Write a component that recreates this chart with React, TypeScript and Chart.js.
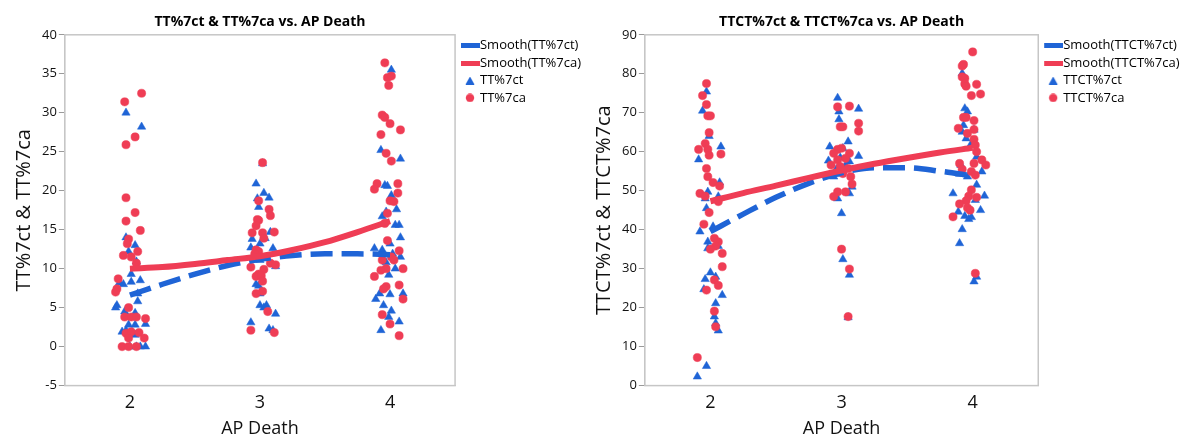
import React, { useEffect, useRef } from "react";
import { Chart, registerables } from "chart.js";

Chart.register(...registerables);

const BLUE = "#1f64d6";
const RED = "#ef3d55";
const FONT = "'Open Sans', 'Noto Sans', sans-serif";

const categories = [2, 3, 4];
const xTitle = "AP Death";
const smoothX = [2, 2.25, 2.5, 2.75, 3, 3.25, 3.5, 3.75, 4];

// ---------- Left chart: TT%7ct & TT%7ca ----------
const leftTitle = "TT%7ct & TT%7ca vs. AP Death";
const leftYTitle = "TT%7ct & TT%7ca";
const leftCtName = "TT%7ct";
const leftCaName = "TT%7ca";
const leftYTicks = [-5, 40, 5]; // min, max, step

const ttCt: [number, number][] = [
  [1.97, 30.0], [2.09, 28.2], [1.97, 14.0], [2.04, 13.0], [1.99, 12.2], [2.05, 10.9], [2.01, 9.3], [2.08, 8.5],
  [1.92, 8.2], [1.95, 8.0], [2.01, 8.3], [2.06, 6.8], [2.06, 5.8], [1.9, 5.3], [1.89, 5.0], [1.96, 4.5],
  [2.04, 4.3], [1.99, 2.8], [2.04, 2.8], [2.12, 2.9], [1.94, 1.9], [1.97, 2.1], [2.04, 1.5], [2.0, 0],
  [2.05, 0], [2.08, 0], [2.12, 0],
  [3.02, 23.5], [2.97, 20.9], [2.98, 19.0], [3.03, 19.7], [3.07, 19.1], [2.99, 17.9], [3.08, 14.7], [2.94, 13.8],
  [3.04, 13.9], [2.93, 12.7], [3.0, 13.2], [3.1, 12.6], [3.0, 11.1], [3.12, 10.3], [2.97, 8.0], [2.99, 7.8],
  [3.0, 6.8], [3.0, 5.3], [3.05, 5.3], [3.03, 5.0], [3.12, 4.2], [2.93, 3.1], [3.07, 2.3], [3.1, 2.1],
  [4.01, 35.5], [3.93, 25.2], [4.08, 24.1], [3.96, 20.7], [3.98, 20.6], [4.01, 19.4], [4.05, 17.6], [3.94, 16.7],
  [3.97, 17.3], [4.04, 15.6], [4.07, 15.6], [4.08, 14.0], [4.0, 13.2], [3.88, 12.6], [3.94, 12.4], [4.02, 11.9],
  [4.08, 11.5], [3.97, 10.8], [4.04, 10.0], [3.99, 9.2], [3.92, 6.8], [3.89, 6.1], [4.0, 6.7], [4.1, 6.8],
  [3.95, 5.3], [4.01, 4.6], [3.99, 3.8], [4.07, 3.2], [3.93, 2.1],
];

const ttCa: [number, number][] = [
  [2.09, 32.5], [1.96, 31.4], [2.04, 26.9], [1.97, 25.9], [1.97, 19.1], [2.04, 17.2], [1.97, 16.1], [2.08, 14.9],
  [1.99, 13.8], [1.98, 13.2], [2.06, 12.2], [1.95, 11.7], [2.01, 11.5], [2.05, 10.7], [1.91, 8.7], [1.9, 7.4],
  [1.89, 7.0], [1.99, 5.0], [1.96, 3.8], [2.01, 3.8], [2.05, 3.8], [2.12, 3.6], [1.97, 1.7], [2.01, 1.9],
  [2.07, 1.8], [1.99, 1.1], [2.11, 1.1], [1.94, 0], [1.99, 0], [2.05, 0],
  [3.02, 23.6], [2.99, 18.7], [3.07, 17.6], [3.08, 16.8], [2.98, 16.3], [2.99, 16.2], [2.97, 15.5], [2.94, 14.6],
  [3.02, 14.6], [3.11, 14.7], [3.03, 13.9], [2.97, 12.4], [2.99, 12.2], [2.96, 11.9], [3.08, 10.7], [3.12, 10.5],
  [2.93, 10.2], [3.03, 9.9], [2.99, 9.3], [2.97, 9.0], [3.01, 9.1], [3.02, 8.4], [3.02, 7.1], [2.97, 6.8],
  [3.06, 4.5], [2.93, 2.1], [3.11, 1.8],
  [3.96, 36.4], [3.98, 34.5], [4.01, 34.7], [3.99, 33.5], [3.94, 29.7], [3.96, 29.4], [4.0, 28.6], [4.08, 27.8],
  [3.93, 27.2], [3.97, 24.8], [4.01, 23.8], [3.9, 20.9], [3.88, 20.2], [4.06, 20.9], [4.06, 19.7], [4.0, 18.7],
  [4.03, 18.6], [3.98, 17.1], [3.96, 15.8], [3.98, 13.6], [4.07, 12.3], [3.94, 11.1], [4.01, 11.5], [4.03, 11.1],
  [3.97, 10.0], [3.93, 9.8], [4.1, 10.0], [3.88, 9.0], [3.97, 7.7], [4.07, 7.9], [3.95, 7.4], [4.1, 6.1],
  [3.94, 4.1], [4.0, 2.9], [4.07, 1.4],
];

const ttCtSmooth = [6.6, 8.0, 9.3, 10.4, 11.2, 11.7, 11.9, 11.9, 11.8];
const ttCaSmooth = [10.0, 10.2, 10.6, 11.1, 11.6, 12.4, 13.4, 14.7, 16.1];

// ---------- Right chart: TTCT%7ct & TTCT%7ca ----------
const rightTitle = "TTCT%7ct & TTCT%7ca vs. AP Death";
const rightYTitle = "TTCT%7ct & TTCT%7ca";
const rightCtName = "TTCT%7ct";
const rightCaName = "TTCT%7ca";
const rightYTicks = [0, 90, 10];

const ttctCt: [number, number][] = [
  [1.97, 75.4], [1.94, 70.5], [1.99, 64.0], [2.08, 61.3], [1.91, 58.0], [2.07, 52.1], [1.98, 49.7], [1.96, 48.0],
  [2.06, 48.5], [1.97, 45.5], [2.02, 40.8], [1.92, 39.5], [1.98, 36.9], [1.98, 35.2], [2.06, 35.8], [2.0, 29.0],
  [2.04, 27.9], [1.96, 27.3], [1.95, 24.7], [2.09, 23.2], [2.04, 21.1], [2.03, 17.7], [2.04, 16.0], [2.06, 14.1],
  [1.97, 5.0], [1.9, 2.3],
  [2.97, 73.8], [2.98, 70.3], [3.13, 71.0], [2.98, 68.3], [3.05, 62.6], [2.91, 61.3], [3.01, 60.9], [3.13, 58.9],
  [2.9, 57.7], [2.94, 53.6], [3.0, 54.3], [3.08, 51.0], [3.06, 49.3], [2.97, 48.0], [3.0, 44.2], [3.01, 32.4],
  [3.06, 28.4], [3.05, 17.5], [3.03, 56.5], [2.96, 55.5], [3.06, 57.5], [2.99, 58.5],
  [3.92, 80.1], [3.94, 71.1], [3.96, 70.3], [3.93, 66.8], [3.92, 65.1], [3.95, 63.4], [4.01, 65.6], [3.99, 62.1],
  [4.03, 58.7], [3.91, 56.6], [4.07, 54.9], [3.9, 54.3], [3.96, 53.6], [4.03, 51.5], [3.85, 49.3], [4.09, 48.7],
  [4.02, 47.6], [3.89, 44.6], [4.06, 45.0], [3.94, 43.5], [3.97, 42.7], [3.99, 43.2], [3.92, 40.1], [3.9, 36.5],
  [4.03, 27.9], [4.01, 26.7],
];

const ttctCa: [number, number][] = [
  [1.97, 77.5], [1.94, 74.4], [1.97, 72.1], [1.98, 69.2], [2.0, 69.2], [1.99, 64.9], [1.96, 62.1], [1.91, 60.6],
  [1.98, 60.6], [1.99, 59.1], [2.08, 59.4], [1.97, 55.7], [1.98, 53.6], [2.02, 52.1], [2.07, 51.2], [1.92, 49.3],
  [1.96, 48.6], [2.06, 47.2], [1.99, 44.4], [1.95, 41.4], [2.03, 37.8], [2.06, 36.9], [2.04, 35.8], [2.0, 35.0],
  [2.09, 33.9], [2.09, 30.5], [2.03, 27.1], [1.97, 24.5], [2.06, 25.7], [2.03, 19.1], [2.04, 15.1], [1.9, 7.2],
  [3.06, 71.7], [2.97, 71.5], [3.13, 67.3], [3.13, 65.3], [2.99, 66.4], [3.01, 66.4], [2.97, 60.6], [3.0, 60.9],
  [2.94, 59.6], [3.06, 59.6], [2.97, 57.9], [3.03, 58.3], [2.92, 56.6], [2.99, 56.2], [3.05, 55.7], [3.01, 54.4],
  [3.07, 53.6], [3.08, 51.7], [2.97, 49.7], [3.03, 49.7], [2.94, 48.5], [3.0, 35.0], [3.06, 29.9], [3.05, 17.7],
  [4.0, 85.6], [3.93, 82.4], [3.92, 82.0], [3.92, 79.2], [3.94, 78.8], [3.94, 77.4], [3.95, 76.8], [4.03, 77.3],
  [3.99, 74.4], [4.06, 74.8], [3.93, 68.8], [3.95, 68.8], [4.01, 68.0], [3.89, 66.0], [4.01, 65.7], [3.96, 64.7],
  [4.01, 63.2], [4.02, 61.7], [4.03, 60.0], [4.07, 57.9], [4.1, 56.6], [3.9, 57.0], [4.01, 57.0], [3.92, 55.5],
  [3.99, 54.9], [4.02, 54.0], [3.99, 50.2], [3.97, 48.6], [4.03, 48.3], [3.95, 47.4], [3.9, 46.6], [3.96, 45.6],
  [3.98, 45.0], [3.85, 43.3], [4.02, 28.8],
];

const ttctCtSmooth = [39.5, 44.0, 48.3, 51.9, 54.6, 55.9, 55.9, 55.0, 53.8];
const ttctCaSmooth = [47.3, 49.4, 51.3, 53.3, 55.2, 56.9, 58.4, 59.8, 61.0];

// ---------- helpers ----------
const ICON_W = 27;

function iconCanvas(h: number, draw: (ctx: CanvasRenderingContext2D) => void) {
  const c = document.createElement("canvas");
  c.width = ICON_W;
  c.height = h;
  const ctx = c.getContext("2d");
  if (ctx) draw(ctx);
  return c;
}

function makeIcons() {
  const line = (color: string) =>
    iconCanvas(5, (ctx) => {
      ctx.fillStyle = color;
      ctx.fillRect(ICON_W - 19, 0, 19, 5);
    });
  const cx = ICON_W - 10;
  const tri = iconCanvas(8, (ctx) => {
    ctx.fillStyle = BLUE;
    ctx.beginPath();
    ctx.moveTo(cx, 0);
    ctx.lineTo(cx + 4.5, 8);
    ctx.lineTo(cx - 4.5, 8);
    ctx.closePath();
    ctx.fill();
  });
  const circ = iconCanvas(9, (ctx) => {
    ctx.fillStyle = RED;
    ctx.beginPath();
    ctx.arc(cx, 4.5, 4.2, 0, Math.PI * 2);
    ctx.fill();
  });
  return [line(BLUE), line(RED), tri, circ];
}

const framePlugin = {
  id: "frame",
  beforeDatasetsDraw(chart: any) {
    const { ctx, chartArea } = chart;
    ctx.save();
    ctx.strokeStyle = "#c6c6c6";
    ctx.lineWidth = 1.5;
    ctx.strokeRect(chartArea.left, chartArea.top, chartArea.right - chartArea.left, chartArea.bottom - chartArea.top);
    ctx.restore();
  },
};

type Spec = {
  title: string;
  yTitle: string;
  ctName: string;
  caName: string;
  yTicks: number[];
  ct: [number, number][];
  ca: [number, number][];
  ctSmooth: number[];
  caSmooth: number[];
};

function buildConfig(s: Spec): any {
  const icons = makeIcons();
  return {
    type: "scatter",
    data: {
      datasets: [
        {
          label: `Smooth(${s.ctName})`,
          data: smoothX.map((x, i) => ({ x, y: s.ctSmooth[i] })),
          showLine: true,
          borderColor: BLUE,
          backgroundColor: BLUE,
          borderWidth: 5.5,
          borderDash: [22, 9],
          pointRadius: 0,
          cubicInterpolationMode: "monotone",
          order: 1,
        },
        {
          label: `Smooth(${s.caName})`,
          data: smoothX.map((x, i) => ({ x, y: s.caSmooth[i] })),
          showLine: true,
          borderColor: RED,
          backgroundColor: RED,
          borderWidth: 6,
          pointRadius: 0,
          cubicInterpolationMode: "monotone",
          order: 0,
        },
        {
          label: s.ctName,
          data: s.ct.map(([x, y]) => ({ x, y })),
          pointStyle: "triangle",
          pointRadius: 4.8,
          backgroundColor: BLUE,
          borderColor: BLUE,
          borderWidth: 0.5,
          order: 3,
        },
        {
          label: s.caName,
          data: s.ca.map(([x, y]) => ({ x, y })),
          pointStyle: "circle",
          pointRadius: 4.1,
          backgroundColor: RED,
          borderColor: RED,
          borderWidth: 0.5,
          order: 2,
        },
      ],
    },
    options: {
      animation: false,
      responsive: false,
      events: [],
      layout: { padding: { left: 12, right: 6, top: 0, bottom: 0 } },
      plugins: {
        tooltip: { enabled: false },
        title: {
          display: true,
          text: s.title,
          fullSize: false,
          color: "#000",
          font: { family: FONT, size: 14, weight: "bold" },
          padding: { top: 14, bottom: 4 },
        },
        legend: {
          position: "right",
          align: "start",
          fullSize: false,
          labels: {
            usePointStyle: true,
            boxHeight: 7,
            pointStyleWidth: 14,
            padding: 4.4,
            color: "#000",
            font: { family: FONT, size: 13 },
            sort: (a: any, b: any) => a.datasetIndex - b.datasetIndex,
            generateLabels: (chart: any) => {
              const items = (Chart.defaults.plugins.legend.labels as any).generateLabels(chart);
              return items.map((it: any) => ({ ...it, pointStyle: icons[it.datasetIndex], lineDash: [], lineWidth: 0 }));
            },
          },
        },
      },
      scales: {
        x: {
          type: "linear",
          min: 1.5,
          max: 4.5,
          afterBuildTicks: (scale: any) => {
            scale.ticks = categories.map((v) => ({ value: v }));
          },
          grid: { drawOnChartArea: false, drawTicks: false },
          border: { color: "#c6c6c6" },
          ticks: { padding: 6, color: "#111", font: { family: FONT, size: 18 } },
          title: {
            display: true,
            text: xTitle,
            color: "#111",
            font: { family: FONT, size: 18, lineHeight: 1.1 },
            padding: { top: 0, bottom: 0 },
          },
        },
        y: {
          min: s.yTicks[0],
          max: s.yTicks[1],
          ticks: { stepSize: s.yTicks[2], padding: 2, color: "#111", font: { family: FONT, size: 13 } },
          grid: { drawOnChartArea: false, tickLength: 6, color: "#9a9a9a" },
          border: { color: "#c6c6c6" },
          title: {
            display: true,
            text: s.yTitle,
            color: "#111",
            font: { family: FONT, size: 20 },
            padding: { top: 0, bottom: 4 },
          },
        },
      },
    },
    plugins: [framePlugin],
  };
}

function ChartCanvas({ spec, left, width }: { spec: Spec; left: number; width: number }) {
  const ref = useRef<HTMLCanvasElement | null>(null);
  useEffect(() => {
    if (!ref.current) return;
    const chart = new Chart(ref.current, buildConfig(spec));
    return () => chart.destroy();
  }, [spec]);
  return (
    <canvas
      ref={ref}
      width={width}
      height={439}
      style={{ position: "absolute", left, top: 0, width, height: 439 }}
    />
  );
}

const leftSpec: Spec = {
  title: leftTitle,
  yTitle: leftYTitle,
  ctName: leftCtName,
  caName: leftCaName,
  yTicks: leftYTicks,
  ct: ttCt,
  ca: ttCa,
  ctSmooth: ttCtSmooth,
  caSmooth: ttCaSmooth,
};

const rightSpec: Spec = {
  title: rightTitle,
  yTitle: rightYTitle,
  ctName: rightCtName,
  caName: rightCaName,
  yTicks: rightYTicks,
  ct: ttctCt,
  ca: ttctCa,
  ctSmooth: ttctCtSmooth,
  caSmooth: ttctCaSmooth,
};

export default function App() {
  return (
    <div style={{ position: "fixed", left: 0, top: 0, width: 1181, height: 439, background: "#fff", overflow: "hidden" }}>
      <ChartCanvas spec={leftSpec} left={0} width={597} />
      <ChartCanvas spec={rightSpec} left={580} width={613} />
    </div>
  );
}
